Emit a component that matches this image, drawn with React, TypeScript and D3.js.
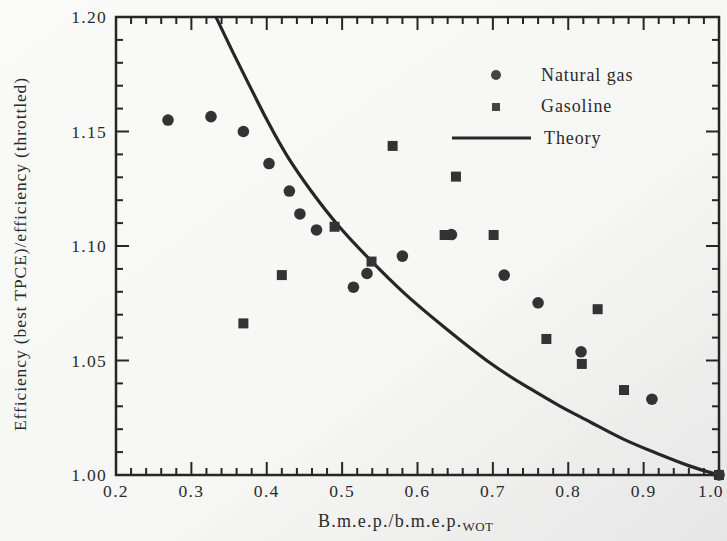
import React from "react";
import * as d3 from "d3";

const naturalGasX = [0.269, 0.326, 0.369, 0.403, 0.430, 0.444, 0.466, 0.515, 0.533, 0.580, 0.645, 0.715, 0.760, 0.817, 0.911, 1.0];
const naturalGasY = [1.155, 1.1565, 1.150, 1.136, 1.124, 1.114, 1.107, 1.082, 1.088, 1.0956, 1.105, 1.0873, 1.0752, 1.0538, 1.0331, 1.0];

const gasolineX = [0.369, 0.420, 0.490, 0.539, 0.567, 0.636, 0.651, 0.701, 0.771, 0.818, 0.839, 0.874, 1.0];
const gasolineY = [1.0662, 1.0873, 1.1084, 1.0932, 1.1437, 1.1048, 1.1303, 1.1048, 1.0594, 1.0485, 1.0724, 1.0371, 1.0];

const theoryX = [0.3327, 0.3556, 0.3778, 0.400, 0.4265, 0.4574, 0.4928, 0.537, 0.5812, 0.6342, 0.7006, 0.7449, 0.7891, 0.8289, 0.8731, 0.9174, 0.9615, 1.0];
const theoryY = [1.200, 1.1841, 1.1696, 1.155, 1.139, 1.1245, 1.1092, 1.0939, 1.0793, 1.0648, 1.0473, 1.0386, 1.0298, 1.0233, 1.0153, 1.0095, 1.0036, 1.0];

const xTickLabels = ["0.2", "0.3", "0.4", "0.5", "0.6", "0.7", "0.8", "0.9", "1.0"];
const yTickLabels = ["1.00", "1.05", "1.10", "1.15", "1.20"];

const legendLabels = ["Natural gas", "Gasoline", "Theory"];

const W = 727;
const H = 541;
const L = 116, R = 719, T = 17, B = 475;
const INK = "#262626";
const FONT = "Liberation Serif, DejaVu Serif, serif";

export default function App() {
  const x = d3.scaleLinear().domain([0.2, 1.0]).range([L, R]);
  const y = d3.scaleLinear().domain([1.0, 1.2]).range([B, T]);

  const xMinor = d3.range(0, 41).map((i) => 0.2 + i * 0.02);
  const yMinor = d3.range(0, 21).map((i) => 1.0 + i * 0.01);
  const isMajorX = (v: number) => Math.abs(v * 10 - Math.round(v * 10)) < 1e-6;
  const isMajorY = (v: number) => Math.abs(v * 20 - Math.round(v * 20)) < 1e-6;

  const theoryPts: [number, number][] = theoryX.map((v, i) => [v, theoryY[i]]);
  const line = d3
    .line<[number, number]>()
    .x((d) => x(d[0]))
    .y((d) => y(d[1]))
    .curve(d3.curveBasis);

  const majorLen = 13;
  const minorLen = 7;
  const textStyle = { fontFamily: FONT };

  return (
    <svg
      width={W}
      height={H}
      style={{ position: "absolute", left: 0, top: 0, background: "#f7f7f5" }}
    >
      <defs>
        <linearGradient id="bg" x1="0" y1="0" x2="1" y2="1">
          <stop offset="0" stopColor="#fafaf9" />
          <stop offset="0.6" stopColor="#f6f6f5" />
          <stop offset="1" stopColor="#e6e6e6" />
        </linearGradient>
        <clipPath id="plot">
          <rect x={L} y={T} width={R - L} height={B - T} />
        </clipPath>
      </defs>
      <rect x={0} y={0} width={W} height={H} fill="url(#bg)" />

      {/* ticks */}
      <g stroke={INK} strokeWidth={2}>
        {xMinor.map((v, i) => {
          const len = isMajorX(v) ? majorLen : minorLen;
          return (
            <g key={"xt" + i}>
              <line x1={x(v)} x2={x(v)} y1={B} y2={B - len} />
              <line x1={x(v)} x2={x(v)} y1={T} y2={T + len} />
            </g>
          );
        })}
        {yMinor.map((v, i) => {
          const len = isMajorY(v) ? majorLen : minorLen;
          return (
            <g key={"yt" + i}>
              <line x1={L} x2={L + len} y1={y(v)} y2={y(v)} />
              <line x1={R} x2={R - len} y1={y(v)} y2={y(v)} />
            </g>
          );
        })}
      </g>

      {/* frame */}
      <rect x={L} y={T} width={R - L} height={B - T} fill="none" stroke={INK} strokeWidth={2.5} />

      {/* tick labels */}
      <g fill="#2a2a2a" fontSize={17.5} letterSpacing={1.3} style={textStyle}>
        {xTickLabels.map((t) => (
          <text key={"xl" + t} x={Math.min(x(+t), 711)} y={497} textAnchor="middle" style={textStyle}>
            {t}
          </text>
        ))}
        {yTickLabels.map((t) => (
          <text key={"yl" + t} x={107} y={y(+t) + 6} textAnchor="end" style={textStyle}>
            {t}
          </text>
        ))}
      </g>

      {/* axis titles */}
      <text x={318} y={527} fontSize={18} fill="#2a2a2a" letterSpacing={1.2} style={textStyle}>
        B.m.e.p./b.m.e.p.
        <tspan fontSize={13} dy={4} letterSpacing={0.5}>
          WOT
        </tspan>
      </text>
      <text
        transform={`translate(26, 254) rotate(-90)`}
        textAnchor="middle"
        fontSize={17.5}
        fill="#2a2a2a"
        letterSpacing={0.9}
        style={textStyle}
      >
        Efficiency (best TPCE)/efficiency (throttled)
      </text>

      {/* data */}
      <g clipPath="url(#plot)">
        <path d={line(theoryPts) || ""} fill="none" stroke={INK} strokeWidth={3.2} />
      </g>
      <g fill="#333">
        {gasolineX.map((v, i) => (
          <rect key={"g" + i} x={x(v) - 5} y={y(gasolineY[i]) - 5} width={10} height={10} />
        ))}
        {naturalGasX.map((v, i) => (
          <circle key={"n" + i} cx={x(v)} cy={y(naturalGasY[i])} r={5.8} />
        ))}
      </g>

      {/* legend */}
      <g fill="#2a2a2a" fontSize={18} letterSpacing={0.9} style={textStyle}>
        <circle cx={496} cy={75} r={5} fill="#444" />
        <text x={541} y={81} style={textStyle}>{legendLabels[0]}</text>
        <rect x={492} y={103} width={8} height={8} fill="#444" />
        <text x={541} y={112} style={textStyle}>{legendLabels[1]}</text>
        <line x1={452} x2={531} y1={138} y2={138} stroke={INK} strokeWidth={3} />
        <text x={544} y={144} style={textStyle}>{legendLabels[2]}</text>
      </g>
    </svg>
  );
}
